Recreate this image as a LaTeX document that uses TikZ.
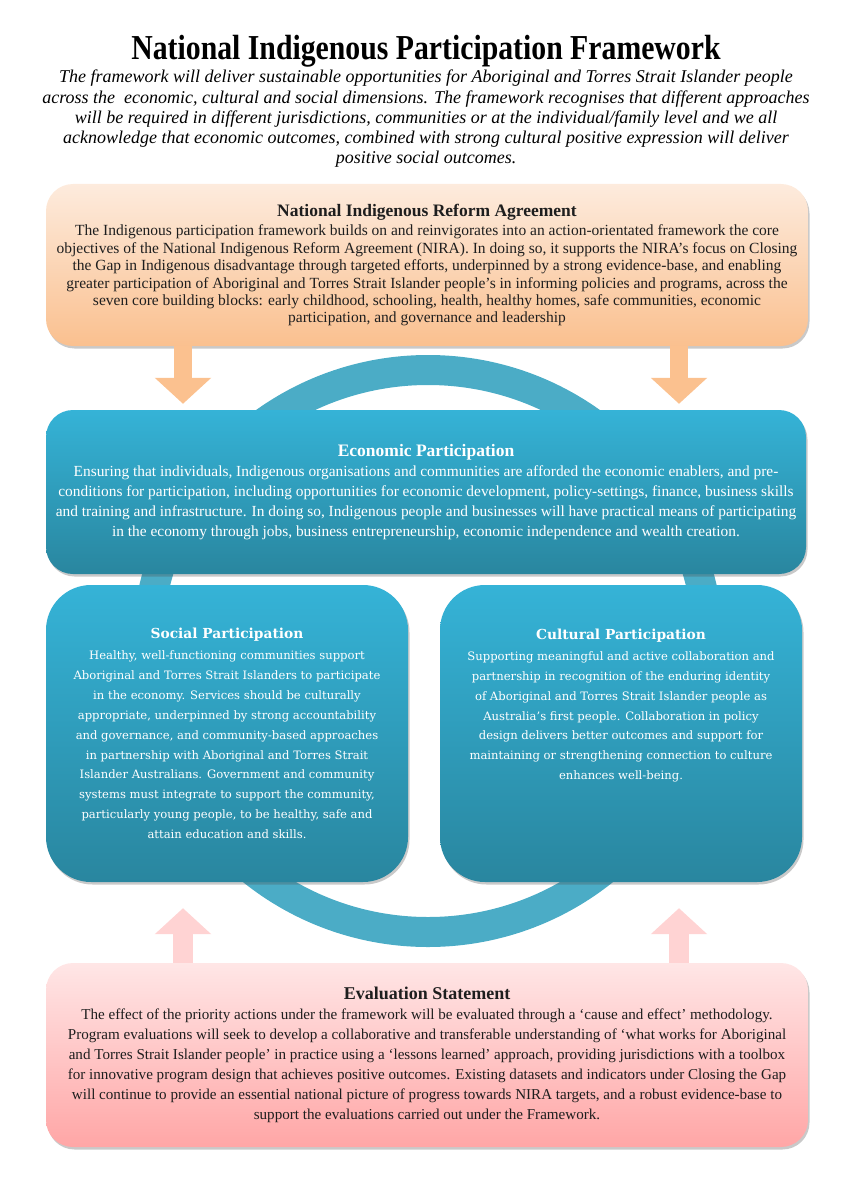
\documentclass[tikz,border=0pt]{standalone}
\usepackage{fontspec}
\setmainfont{Liberation Serif}
\newfontfamily\headfont[FakeStretch=0.85]{Liberation Serif}
\newfontfamily\panelfont{DejaVu Serif}
\usetikzlibrary{arrows.meta,shadows,positioning}

\definecolor{peachtop}{HTML}{FDEBDD}
\definecolor{peachbot}{HTML}{FAC08F}
\definecolor{tealtop}{HTML}{35B3D7}
\definecolor{tealbot}{HTML}{29869F}
\definecolor{ringblue}{HTML}{4BACC6}
\definecolor{pinktop}{HTML}{FFE6E6}
\definecolor{pinkbot}{HTML}{FFA6A6}
\definecolor{peacharrow}{HTML}{FBC18F}
\definecolor{pinkarrow}{HTML}{FFD3D3}
\definecolor{inkgray}{HTML}{1E1E1E}

\tikzset{
  panel/.style={rounded corners=27pt, inner sep=0pt, align=center,
    drop shadow={shadow xshift=1.5pt, shadow yshift=-2.5pt, opacity=0.3, fill=black!70}},
  nirapanel/.style={panel, top color=peachtop, bottom color=peachbot, text=inkgray},
  tealpanel/.style={panel, top color=tealtop, bottom color=tealbot, text=white},
  evalpanel/.style={panel, top color=pinktop, bottom color=pinkbot, text=inkgray},
  downarrow/.style={line width=18pt, draw=peacharrow, -{Triangle[width=55pt,length=26pt]}, shorten >=6pt},
  uparrow/.style={line width=20pt, draw=pinkarrow, -{Triangle[width=55pt,length=26pt]}, shorten >=26pt},
}

\begin{document}
\begin{tikzpicture}[x=1pt, y=-1pt]
  \useasboundingbox (0,0) rectangle (856,1182);
  \coordinate (hub) at (428,651);
  \coordinate (lcol) at (183,0);
  \coordinate (rcol) at (679,0);

  % heading
  \node[anchor=base, inner sep=0pt, font=\headfont\bfseries\fontsize{35}{40}\selectfont] (title) at (426,60)
    {National Indigenous Participation Framework};
  \node[anchor=north, inner sep=0pt, align=center, font=\itshape\fontsize{18}{20.25}\selectfont] (intro) at (426,70)
    {The framework will deliver sustainable opportunities for Aboriginal and Torres Strait Islander people\\
     across the \ economic, cultural and social dimensions. The framework recognises that different approaches\\
     will be required in different jurisdictions, communities or at the individual/family level and we all\\
     acknowledge that economic outcomes, combined with strong cultural positive expression will deliver\\
     positive social outcomes.};

  % ring behind the participation panels
  \draw[ringblue, line width=30pt] (hub) circle[radius=281pt];

  % panels
  \node[nirapanel, minimum width=762pt, minimum height=162pt, font=\fontsize{15.5}{17.4}\selectfont] (nira) at (427,265)
    {{\fontsize{17.5}{20}\selectfont\bfseries National Indigenous Reform Agreement}\\[2.5pt]
     The Indigenous participation framework builds on and reinvigorates into an action-orientated framework the core\\
     objectives of the National Indigenous Reform Agreement (NIRA). In doing so, it supports the NIRA’s focus on Closing\\
     the Gap in Indigenous disadvantage through targeted efforts, underpinned by a strong evidence-base, and enabling\\
     greater participation of Aboriginal and Torres Strait Islander people’s in informing policies and programs, across the\\
     seven core building blocks: early childhood, schooling, health, healthy homes, safe communities, economic\\
     participation, and governance and leadership};
  \node[tealpanel, minimum width=760pt, minimum height=164pt, font=\fontsize{15.4}{20}\selectfont] (econ) at (426,492)
    {{\fontsize{17.5}{20}\selectfont\bfseries Economic Participation}\\
     Ensuring that individuals, Indigenous organisations and communities are afforded the economic enablers, and pre-\\
     conditions for participation, including opportunities for economic development, policy-settings, finance, business skills\\
     and training and infrastructure. In doing so, Indigenous people and businesses will have practical means of participating\\
     in the economy through jobs, business entrepreneurship, economic independence and wealth creation.};
  \node[tealpanel, rounded corners=45pt, minimum width=362pt, minimum height=297pt,
        font=\panelfont\fontsize{11.6}{19.9}\selectfont] (social) at (227,733.5)
    {{\fontsize{13.8}{15}\selectfont\bfseries Social Participation}\\[1pt]
     Healthy, well-functioning communities support\\
     Aboriginal and Torres Strait Islanders to participate\\
     in the economy. Services should be culturally\\
     appropriate, underpinned by strong accountability\\
     and governance, and community-based approaches\\
     in partnership with Aboriginal and Torres Strait\\
     Islander Australians. Government and community\\
     systems must integrate to support the community,\\
     particularly young people, to be healthy, safe and\\
     attain education and skills.};
  \node[tealpanel, rounded corners=45pt, minimum width=362pt, minimum height=297pt] (cult) at (621,733.5) {};
  \node[below=44pt of cult.north, inner sep=0pt, align=center, text=white,
        font=\panelfont\fontsize{11.6}{19.9}\selectfont] (culttext)
    {{\fontsize{13.8}{15}\selectfont\bfseries Cultural Participation}\\[1pt]
     Supporting meaningful and active collaboration and\\
     partnership in recognition of the enduring identity\\
     of Aboriginal and Torres Strait Islander people as\\
     Australia’s first people. Collaboration in policy\\
     design delivers better outcomes and support for\\
     maintaining or strengthening connection to culture\\
     enhances well-being.};
  \node[evalpanel, minimum width=762pt, minimum height=184pt, font=\fontsize{15.1}{20}\selectfont] (eval) at (427,1055)
    {{\fontsize{18}{20}\selectfont\bfseries Evaluation Statement}\\
     The effect of the priority actions under the framework will be evaluated through a ‘cause and effect’ methodology.\\
     Program evaluations will seek to develop a collaborative and transferable understanding of ‘what works for Aboriginal\\
     and Torres Strait Islander people’ in practice using a ‘lessons learned’ approach, providing jurisdictions with a toolbox\\
     for innovative program design that achieves positive outcomes. Existing datasets and indicators under Closing the Gap\\
     will continue to provide an essential national picture of progress towards NIRA targets, and a robust evidence-base to\\
     support the evaluations carried out under the Framework.};

  % block arrows
  \draw[downarrow] (nira.south -| lcol) -- (econ.north -| lcol);
  \draw[downarrow] (nira.south -| rcol) -- (econ.north -| rcol);
  \draw[uparrow] (eval.north -| lcol) -- (social.south -| lcol);
  \draw[uparrow] (eval.north -| rcol) -- (cult.south -| rcol);
\end{tikzpicture}
\end{document}
